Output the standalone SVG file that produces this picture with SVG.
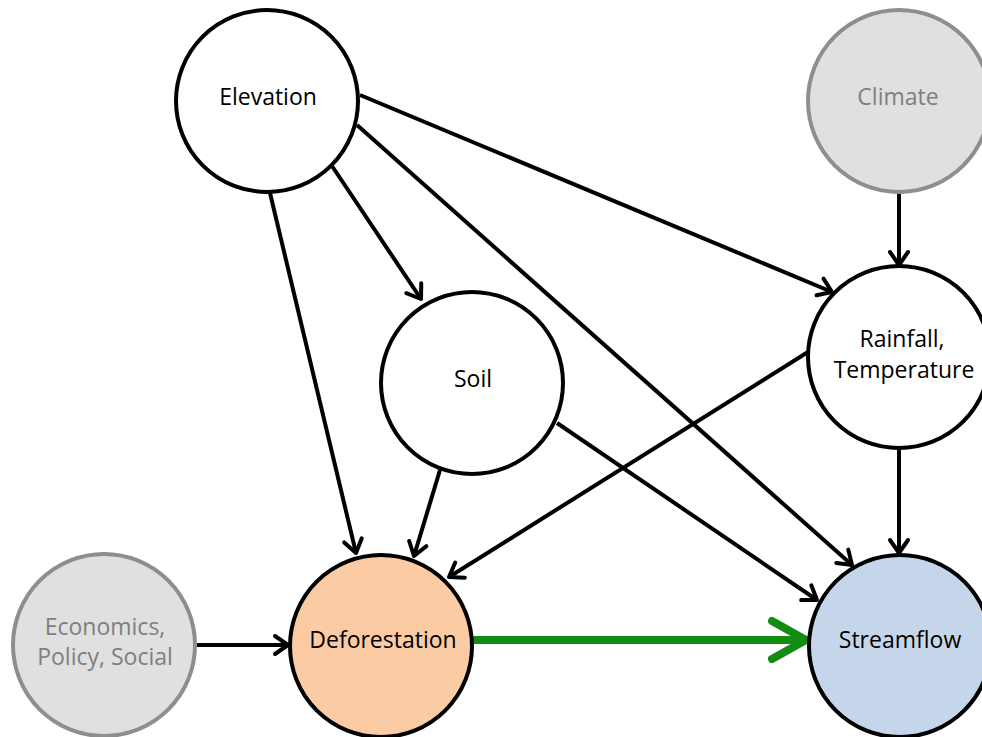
<svg xmlns="http://www.w3.org/2000/svg" width="982" height="737" viewBox="0 0 982 737">
  <style>
    .node { stroke: #000; stroke-width: 4; fill: #fff; }
    .grey { stroke: #8e8e8e; stroke-width: 4; fill: #e0e0e0; }
    .defo { fill: #fbcba4; }
    .flow { fill: #c6d6ea; }
    .lbl { font-family: "Open Sans", "Noto Sans", sans-serif; font-size: 23px; text-anchor: middle; fill: #000; }
    .glbl { fill: #7f7f7f; }
    .edge { stroke: #000; stroke-width: 4; fill: none; marker-end: url(#arr); }
    .green { stroke: #148c14; stroke-width: 8; fill: none; marker-end: url(#garr); }
  </style>
  <defs>
    <marker id="arr" markerUnits="userSpaceOnUse" orient="auto" refX="0" refY="0" markerWidth="40" markerHeight="40" overflow="visible">
      <path d="M-13,-9 L0,0 L-13,9" fill="none" stroke="#000" stroke-width="4" stroke-linecap="round" stroke-linejoin="round"/>
    </marker>
    <marker id="garr" markerUnits="userSpaceOnUse" orient="auto" refX="0" refY="0" markerWidth="80" markerHeight="80" overflow="visible">
      <path d="M-34,-19 L0,0 L-34,19" fill="none" stroke="#148c14" stroke-width="8" stroke-linecap="round" stroke-linejoin="round"/>
    </marker>
  </defs>
  <rect width="982" height="737" fill="#fff"/>
  <g id="connectors">
    <line class="edge" x1="360" y1="95" x2="832" y2="292"/>
    <line class="edge" x1="357" y1="125" x2="852" y2="565"/>
    <line class="edge" x1="332" y1="166" x2="421" y2="299"/>
    <line class="edge" x1="270" y1="193" x2="356" y2="553"/>
    <line class="edge" x1="440" y1="470" x2="414" y2="556"/>
    <line class="edge" x1="557" y1="423" x2="817" y2="600"/>
    <line class="edge" x1="808" y1="352" x2="449" y2="577"/>
    <line class="edge" x1="899" y1="448" x2="899" y2="553"/>
    <line class="edge" x1="899" y1="193" x2="899" y2="265"/>
    <line class="edge" x1="195" y1="645" x2="288" y2="645"/>
    <line class="green" x1="473" y1="640" x2="806" y2="640"/>
  </g>
  <g id="elevation">
    <circle class="node" cx="267" cy="101" r="91"/>
    <text class="lbl" x="268" y="105">Elevation</text>
  </g>
  <g id="climate">
    <circle class="grey" cx="899" cy="101" r="91"/>
    <text class="lbl glbl" x="898" y="105">Climate</text>
  </g>
  <g id="soil">
    <circle class="node" cx="472" cy="383" r="91"/>
    <text class="lbl" x="473" y="387">Soil</text>
  </g>
  <g id="rainfall">
    <circle class="node" cx="899" cy="357" r="91"/>
    <text class="lbl" x="902" y="347">Rainfall,</text>
    <text class="lbl" x="904" y="378">Temperature</text>
  </g>
  <g id="economics">
    <circle class="grey" cx="104" cy="645" r="91"/>
    <text class="lbl glbl" x="105" y="635">Economics,</text>
    <text class="lbl glbl" x="105" y="665">Policy, Social</text>
  </g>
  <g id="deforestation">
    <circle class="node defo" cx="381" cy="646" r="91"/>
    <text class="lbl" x="383" y="648">Deforestation</text>
  </g>
  <g id="streamflow">
    <circle class="node flow" cx="900" cy="646" r="91"/>
    <text class="lbl" x="900" y="648">Streamflow</text>
  </g>
</svg>
